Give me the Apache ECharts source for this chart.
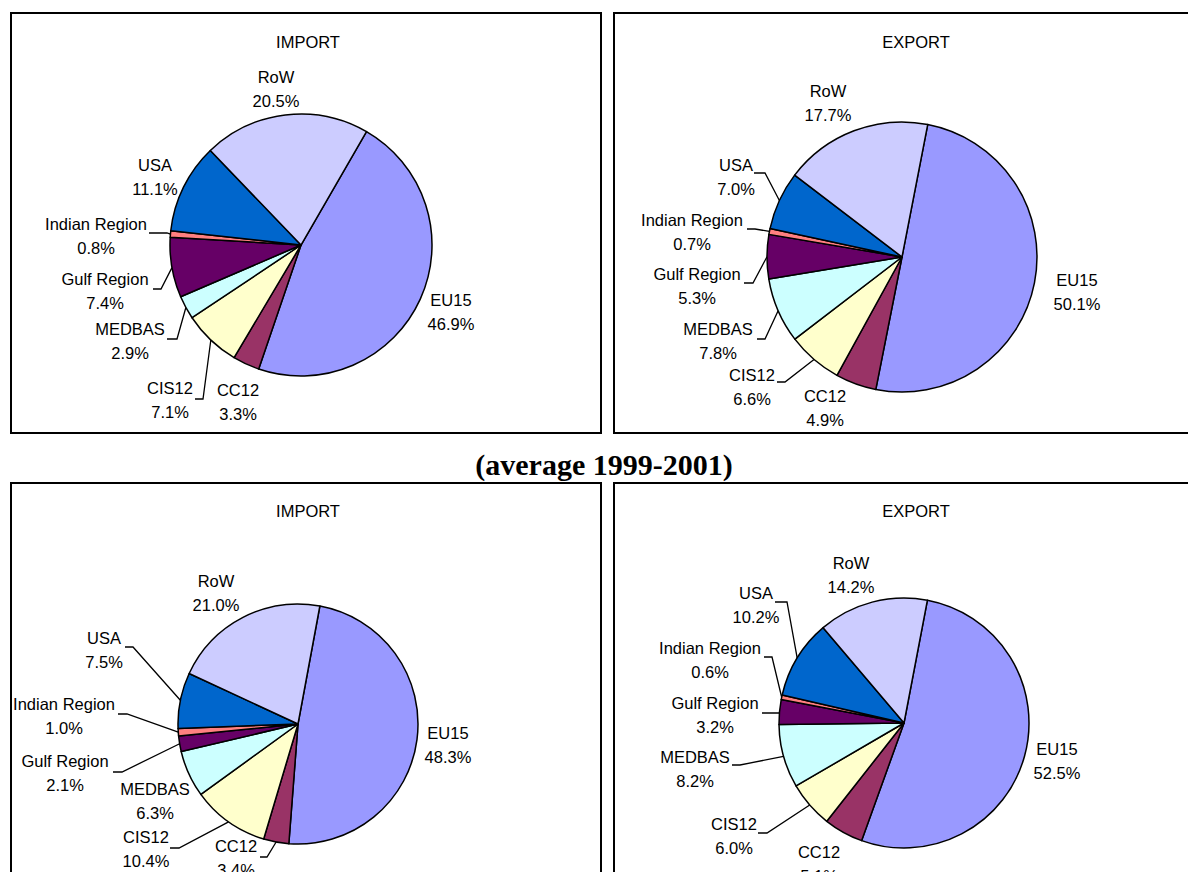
<!DOCTYPE html>
<html>
<head>
<meta charset="utf-8">
<script src="https://cdn.jsdelivr.net/npm/echarts@6.0.0/dist/echarts.min.js"></script>
<style>
  html, body { margin: 0; padding: 0; background: #fff; }
  #chart { width: 1188px; height: 872px; }
</style>
</head>
<body>
<div id="chart"></div>
<script>
// ---- Data ----
const categories = ['EU15', 'CC12', 'CIS12', 'MEDBAS', 'Gulf Region', 'Indian Region', 'USA', 'RoW'];
const importTop = [46.9, 3.3, 7.1, 2.9, 7.4, 0.8, 11.1, 20.5];
const exportTop = [50.1, 4.9, 6.6, 7.8, 5.3, 0.7, 7.0, 17.7];
const importAvg = [48.3, 3.4, 10.4, 6.3, 2.1, 1.0, 7.5, 21.0];
const exportAvg = [52.5, 5.1, 6.0, 8.2, 3.2, 0.6, 10.2, 14.2];
const panelTitles = ['IMPORT', 'EXPORT', 'IMPORT', 'EXPORT'];
const heading = '(average 1999-2001)';

// ---- Styles ----
const sliceColors = ['#9999FF', '#993366', '#FFFFCC', '#CCFFFF', '#660066', '#FF8080', '#0066CC', '#CCCCFF'];
const labelFont = 'Liberation Sans, Arial, sans-serif';

// ---- Layout (pixels) ----
// pie centre, radius, clockwise start angle from 12 o'clock, label centres, leader [tailX, elbowX, y]
const panels = [
  { values: importTop, cx: 301, cy: 245, r: 131, start: 30, title: [308, 42],
    labels: [[451, 312], [238, 402], [170, 400], [130, 341], [105, 291], [96, 236], [155, 177], [276, 89]],
    leaders: [null, null, [195, 203, 399], [167, 177, 339], [153, 161, 289], [149, 167, 233], null, null] },
  { values: exportTop, cx: 902, cy: 257, r: 135, start: 11, title: [916, 42],
    labels: [[1077, 292], [825, 408], [752, 387], [718, 341], [697, 286], [692, 232], [736, 177], [828, 103]],
    leaders: [null, null, [777, 785, 382], [757, 765, 339], [744, 753, 283], [747, 755, 229], [754, 765, 173], null] },
  { values: importAvg, cx: 298, cy: 724, r: 120, start: 10.5, title: [308, 511],
    labels: [[448, 745], [236, 858], [146, 849], [155, 801], [65, 773], [64, 716], [104, 650], [216, 593]],
    leaders: [null, [260, 267, 857], [170, 179, 848], null, [113, 122, 772], [118, 127, 714], [125, 133, 647], null] },
  { values: exportAvg, cx: 904, cy: 723, r: 125, start: 10.8, title: [916, 511],
    labels: [[1057, 761], [819, 864], [734, 836], [695, 769], [715, 715], [710, 660], [756, 605], [851, 575]],
    leaders: [null, null, [758, 767, 833], [732, 740, 765], [762, 780, 713], [764, 772, 657], [775, 787, 602], null] }
];
const boxes = [[11, 13, 590, 420], [614, 13, 620, 420], [11, 483, 590, 420], [614, 483, 620, 420]];

function edgePoint(P, i) {
  const total = P.values.reduce((a, b) => a + b, 0);
  let cum = 0;
  for (let j = 0; j < i; j++) cum += P.values[j];
  const frac = (cum + P.values[i] / 2) / total;
  const a = (P.start + 360 * frac) * Math.PI / 180;
  return [P.cx + P.r * Math.sin(a), P.cy - P.r * Math.cos(a)];
}

const series = panels.map((P) => ({
  type: 'pie',
  center: [P.cx, P.cy],
  radius: P.r,
  startAngle: 90 - P.start,
  clockwise: true,
  avoidLabelOverlap: false,
  animation: false,
  silent: true,
  color: sliceColors,
  data: categories.map((n, i) => ({
    name: n,
    value: P.values[i],
    labelLine: { show: !!P.leaders[i] }
  })),
  itemStyle: { borderColor: '#000', borderWidth: 1.5 },
  label: {
    show: true,
    position: 'outside',
    formatter: (p) => p.name + '\n' + p.value.toFixed(1) + '%',
    color: '#000',
    fontFamily: labelFont,
    fontSize: 16.5,
    lineHeight: 23.5,
    align: 'center'
  },
  labelLine: { show: true, length: 5, length2: 5, lineStyle: { color: '#000', width: 1.3 } },
  emphasis: { disabled: true },
  labelLayout: (params) => {
    const i = params.dataIndex;
    const pos = P.labels[i];
    const res = { x: pos[0], y: pos[1], align: 'center', verticalAlign: 'middle' };
    const L = P.leaders[i];
    if (L) {
      res.labelLinePoints = [edgePoint(P, i), [L[1], L[2]], [L[0], L[2]]];
    }
    return res;
  }
}));

const graphic = [];
boxes.forEach((b) => {
  graphic.push({ type: 'rect', shape: { x: b[0], y: b[1], width: b[2], height: b[3] },
    style: { fill: 'none', stroke: '#000', lineWidth: 2 }, silent: true, z: 1 });
});
panels.forEach((P, k) => {
  graphic.push({ type: 'text', x: P.title[0], y: P.title[1],
    style: { text: panelTitles[k], align: 'center', verticalAlign: 'middle',
      font: '16.5px ' + labelFont, fill: '#000' }, silent: true, z: 5 });
});
graphic.push({ type: 'text', x: 604, y: 464,
  style: { text: heading, align: 'center', verticalAlign: 'middle',
    font: 'bold 30px "Liberation Serif", "Times New Roman", serif', fill: '#000' }, silent: true, z: 5 });

const chart = echarts.init(document.getElementById('chart'), null, { renderer: 'svg' });
chart.setOption({
  backgroundColor: '#fff',
  animation: false,
  graphic: graphic,
  series: series
});
</script>
</body>
</html>
